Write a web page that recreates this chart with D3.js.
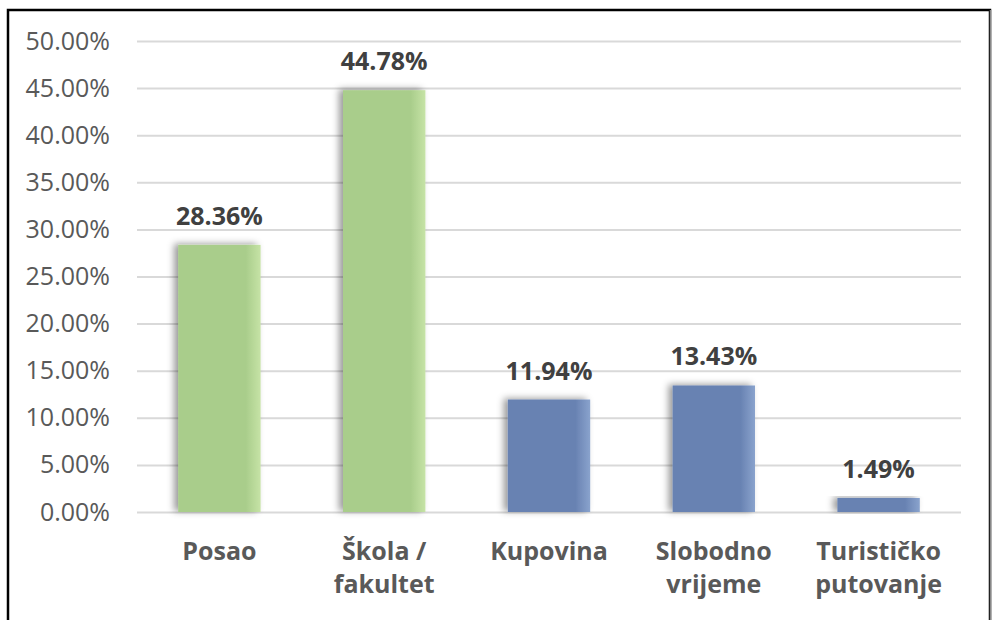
<!DOCTYPE html>
<html>
<head>
<meta charset="utf-8">
<script src="https://cdn.jsdelivr.net/npm/d3@7"></script>
<style>
  body { margin: 0; background: #fff; }
  svg text { font-family: "Open Sans", "Noto Sans", sans-serif; }
</style>
</head>
<body>
<div id="chart"></div>
<script>
var categories = [["Posao"], ["Škola /", "fakultet"], ["Kupovina"], ["Slobodno", "vrijeme"], ["Turističko", "putovanje"]];
var values = [0.2836, 0.4478, 0.1194, 0.1343, 0.0149];
var groups = ["green", "green", "blue", "blue", "blue"];
var yTicks = [0, 0.05, 0.10, 0.15, 0.20, 0.25, 0.30, 0.35, 0.40, 0.45, 0.50];

var width = 992, height = 620;
var margin = {top: 41, right: 31, bottom: 108, left: 137};

var svg = d3.select("#chart")
  .append("svg")
  .attr("width", width)
  .attr("height", height);

// frame
svg.append("path")
  .attr("d", "M8,620 V10 H990 V620")
  .attr("fill", "none")
  .attr("stroke", "#000")
  .attr("stroke-width", 2.5);
svg.append("line")
  .attr("x1", 990.5).attr("x2", 990.5).attr("y1", 10).attr("y2", 620)
  .attr("stroke", "#888").attr("stroke-width", 1.5);

var defs = svg.append("defs");
var colors = {green: ["#a9cd8b", "#c6e3a6"], blue: ["#6882b2", "#8aa3cd"]};
Object.keys(colors).forEach(function (k) {
  var grad = defs.append("linearGradient").attr("id", "grad-" + k)
    .attr("x1", "0%").attr("x2", "100%").attr("y1", "0%").attr("y2", "0%");
  grad.append("stop").attr("offset", "0%").attr("stop-color", colors[k][0]);
  grad.append("stop").attr("offset", "82%").attr("stop-color", colors[k][0]);
  grad.append("stop").attr("offset", "100%").attr("stop-color", colors[k][1]);
});
var filter = defs.append("filter").attr("id", "shadow")
  .attr("x", "-30%").attr("y", "-10%").attr("width", "160%").attr("height", "120%");
filter.append("feDropShadow")
  .attr("dx", -4).attr("dy", -1).attr("stdDeviation", 3.5)
  .attr("flood-color", "#000").attr("flood-opacity", 0.4);

var innerW = width - margin.left - margin.right,
    innerH = height - margin.top - margin.bottom;

var g = svg.append("g")
  .attr("transform", "translate(" + margin.left + "," + margin.top + ")");

var x = d3.scaleBand().domain(d3.range(values.length)).range([0, innerW])
  .paddingInner(0.5).paddingOuter(0.25);
var y = d3.scaleLinear().domain([0, 0.5]).range([innerH, 0]);

var yAxis = g.append("g")
  .call(d3.axisLeft(y).tickValues(yTicks).tickFormat(d3.format(".2%")).tickSize(-innerW).tickPadding(27));
yAxis.select(".domain").remove();
yAxis.selectAll(".tick line").attr("stroke", "#d9d9d9").attr("stroke-width", 2);
yAxis.selectAll(".tick text")
  .attr("fill", "#595959")
  .style("font-size", "25px");

g.selectAll(".bar")
  .data(values)
  .enter().append("rect")
  .attr("class", "bar")
  .attr("x", function (d, i) { return x(i); })
  .attr("y", function (d) { return y(d); })
  .attr("width", x.bandwidth())
  .attr("height", function (d) { return innerH - y(d); })
  .attr("fill", function (d, i) { return "url(#grad-" + groups[i] + ")"; })
  .attr("filter", "url(#shadow)");

g.selectAll(".val")
  .data(values)
  .enter().append("text")
  .attr("class", "val")
  .attr("x", function (d, i) { return x(i) + x.bandwidth() / 2; })
  .attr("y", function (d) { return y(d) - 20; })
  .attr("text-anchor", "middle")
  .attr("fill", "#404040")
  .style("font-size", "25px")
  .style("font-weight", "bold")
  .text(function (d) { return d3.format(".2%")(d); });

var cat = g.selectAll(".cat")
  .data(categories)
  .enter().append("text")
  .attr("class", "cat")
  .attr("text-anchor", "middle")
  .attr("fill", "#595959")
  .style("font-size", "25px")
  .style("font-weight", "bold");
cat.selectAll("tspan")
  .data(function (d, i) { return d.map(function (t) { return {t: t, i: i}; }); })
  .enter().append("tspan")
  .attr("x", function (d) { return x(d.i) + x.bandwidth() / 2; })
  .attr("y", function (d, j) { return innerH + 48 + j * 33; })
  .text(function (d) { return d.t; });
</script>
</body>
</html>
